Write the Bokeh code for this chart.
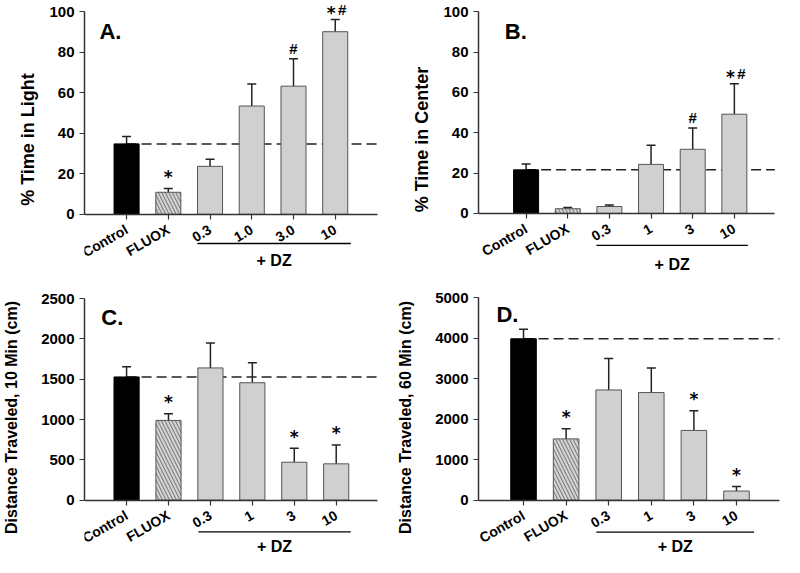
import math
from bokeh.plotting import figure
from bokeh.models import ColumnDataSource, FixedTicker, Whisker, TeeHead, Range1d
from bokeh.layouts import gridplot
from bokeh.core.properties import value
from bokeh.embed import file_html
from bokeh.resources import INLINE

# ---------------- data ----------------
positions = [1, 2, 3, 4, 5, 6]
labels_a = ["Control", "FLUOX", "0.3", "1.0", "3.0", "10"]
labels_bcd = ["Control", "FLUOX", "0.3", "1", "3", "10"]

a_mean = [34.8, 10.9, 23.7, 53.5, 63.3, 90.2]
a_sem = [3.6, 1.9, 3.5, 10.9, 13.6, 6.0]
a_marks = ["", "*", "", "", "#", "*#"]

b_mean = [21.6, 2.3, 3.4, 24.3, 31.8, 49.2]
b_sem = [2.9, 0.6, 0.8, 9.5, 10.6, 15.1]
b_marks = ["", "", "", "", "#", "*#"]

c_mean = [1528, 989, 1640, 1456, 470, 450]
c_sem = [128, 81, 310, 248, 173, 234]
c_marks = ["", "*", "", "", "*", "*"]

d_mean = [3990, 1514, 2724, 2660, 1723, 224]
d_sem = [233, 248, 778, 609, 489, 113]
d_marks = ["", "*", "", "", "*", "*"]

group_label = "+ DZ"

# ---------------- style ----------------
FONT = "Liberation Sans"
PW, PH = 392, 278
SX, SY = 0.98, 0.972
fills = ["#000000", "#d3d3d3", "#d0d0d0", "#d0d0d0", "#d0d0d0", "#d0d0d0"]
outlines = ["#000000", "#555555", "#555555", "#555555", "#555555", "#555555"]
hatches = [" ", "\\", " ", " ", " ", " "]
AXC = "#333333"


def make_panel(col, row, letter, ylabel, ylabel_size, tick_labels, means, sems, marks,
               ymax, ystep, yaxis_x, bar1, bar6, axis_end_ref, y0_ref, ytop_ref,
               letter_xy, dz_line, dz_text_y, ylabel_standoff):
    rx = lambda X: X * SX - col * PW
    ry = lambda Y: Y * SY - row * PH
    L = int(round(rx(yaxis_x)))
    b1 = rx(bar1)
    sp = (rx(bar6) - b1) / 5.0
    y0 = ry(y0_ref)
    ppu = (y0 - ry(ytop_ref)) / ymax

    px2x = lambda px: 1 + (px - b1) / sp
    px2y = lambda py: (y0 - py) / ppu

    x_start = px2x(L)
    x_end = px2x(PW)
    axis_end = px2x(rx(axis_end_ref))
    y_end = px2y(0)
    y_start = px2y(PH)

    p = figure(width=PW, height=PH, x_range=Range1d(x_start, x_end),
               y_range=Range1d(y_start, y_end), output_backend="svg",
               toolbar_location=None, min_border_left=L, min_border_right=0,
               min_border_top=0, min_border_bottom=0)
    p.outline_line_color = None
    p.xgrid.visible = False
    p.ygrid.visible = False

    # reference (control mean) dashed line, behind bars
    p.line([positions[0], axis_end], [means[0], means[0]], line_color="#222222",
           line_width=1.5, line_dash="10 5")

    both = [("*" in m and "#" in m) for m in marks]
    src = ColumnDataSource(dict(
        x=positions, top=means,
        upper=[m + s for m, s in zip(means, sems)],
        fill=fills, outline=outlines, hatch=hatches,
        stars=["*" if "*" in m else "" for m in marks],
        hashes=["#" if "#" in m else "" for m in marks],
        sdx=[-4 if b else 0 for b in both],
        sdy=[-6.5 if b else -11.5 for b in both],
        hdx=[7 if b else 0 for b in both],
    ))
    p.vbar(x="x", top="top", bottom=0, width=0.6, source=src, fill_color="fill",
           line_color="outline", line_width=1, hatch_pattern="hatch",
           hatch_color="#555555", hatch_weight=0.8, hatch_scale=7)

    w = Whisker(base="x", lower="top", upper="upper", source=src,
                line_color="#222222", line_width=1.5, lower_head=None,
                upper_head=TeeHead(size=9, line_color="#222222", line_width=1.5))
    p.add_layout(w)

    # significance marks
    p.text(x="x", y="upper", text="stars", source=src, text_align="center",
           text_baseline="middle", x_offset="sdx", y_offset="sdy",
           text_font=value("DejaVu Sans"), text_font_style="bold",
           text_font_size="17px", text_color="black")
    p.text(x="x", y="upper", text="hashes", source=src, text_align="center",
           text_baseline="middle", x_offset="hdx", y_offset=-10,
           text_font=value(FONT), text_font_style="bold",
           text_font_size="15px", text_color="black")

    # panel letter
    p.text(x=[px2x(rx(letter_xy[0]))], y=[px2y(ry(letter_xy[1]))], text=[letter],
           text_align="left", text_baseline="middle", text_font=value(FONT),
           text_font_style="bold", text_font_size="22px", text_color="black")

    # + DZ bracket
    lx1, lx2 = px2x(rx(dz_line[0])), px2x(rx(dz_line[1]))
    ly = px2y(ry(dz_line[2]))
    p.line([lx1, lx2], [ly, ly], line_color="black", line_width=1.3)
    p.text(x=[(lx1 + lx2) / 2], y=[px2y(ry(dz_text_y))], text=[group_label],
           text_align="center", text_baseline="middle", text_font=value(FONT),
           text_font_style="bold", text_font_size="16px", text_color="black")

    # axes
    xa = p.xaxis[0]
    xa.fixed_location = 0
    xa.bounds = (x_start, axis_end)
    xa.ticker = FixedTicker(ticks=positions)
    xa.major_label_overrides = {pp: t for pp, t in zip(positions, tick_labels)}
    xa.major_label_orientation = math.radians(30)
    xa.major_label_text_font = FONT
    xa.major_label_text_font_style = "bold"
    xa.major_label_text_font_size = "14px"
    xa.major_label_text_color = "black"
    xa.major_label_standoff = 9
    xa.minor_tick_line_color = None
    xa.major_tick_in = 0
    xa.major_tick_out = 5
    xa.axis_line_color = AXC
    xa.axis_line_width = 1.5
    xa.major_tick_line_color = AXC
    xa.major_tick_line_width = 1.2

    ya = p.yaxis[0]
    ya.bounds = (0, ymax)
    ya.ticker = FixedTicker(ticks=list(range(0, ymax + 1, ystep)))
    ya.major_label_text_font = FONT
    ya.major_label_text_font_style = "bold"
    ya.major_label_text_font_size = "15px"
    ya.major_label_text_color = "black"
    ya.major_label_standoff = 5
    ya.minor_tick_line_color = None
    ya.major_tick_in = 0
    ya.major_tick_out = 5
    ya.axis_line_color = AXC
    ya.axis_line_width = 1.5
    ya.major_tick_line_color = AXC
    ya.major_tick_line_width = 1.2
    ya.axis_label = ylabel
    ya.axis_label_text_font = FONT
    ya.axis_label_text_font_style = "bold"
    ya.axis_label_text_font_size = ylabel_size
    ya.axis_label_text_color = "black"
    ya.axis_label_standoff = ylabel_standoff
    return p


pa = make_panel(0, 0, "A.", "% Time in Light", "18px", labels_a, a_mean, a_sem, a_marks,
                100, 20, 82.3, 126, 341, 385, 220, 11.7, (98, 32), (199, 357, 250), 268, 8)
pb = make_panel(1, 0, "B.", "% Time in Center", "18px", labels_bcd, b_mean, b_sem, b_marks,
                100, 20, 482.3, 532, 748, 790, 219, 11.7, (510, 32), (605, 762, 252), 272, 8)
pc = make_panel(0, 1, "C.", "Distance Traveled, 10 Min (cm)", "16px", labels_bcd, c_mean, c_sem,
                c_marks, 2500, 500, 82.3, 126, 342, 385, 514, 306.7, (100, 326),
                (200, 357, 546.7), 562, 18)
pd = make_panel(1, 1, "D.", "Distance Traveled, 60 Min (cm)", "16px", labels_bcd, d_mean, d_sem,
                d_marks, 5000, 1000, 487.3, 533.7, 751, 795, 514, 306, (506, 323),
                (608, 769, 547), 562, 18)

grid = gridplot([[pa, pb], [pc, pd]], toolbar_location=None)

with open("out.html", "w") as f:
    f.write(file_html(grid, INLINE, title="Figure"))
